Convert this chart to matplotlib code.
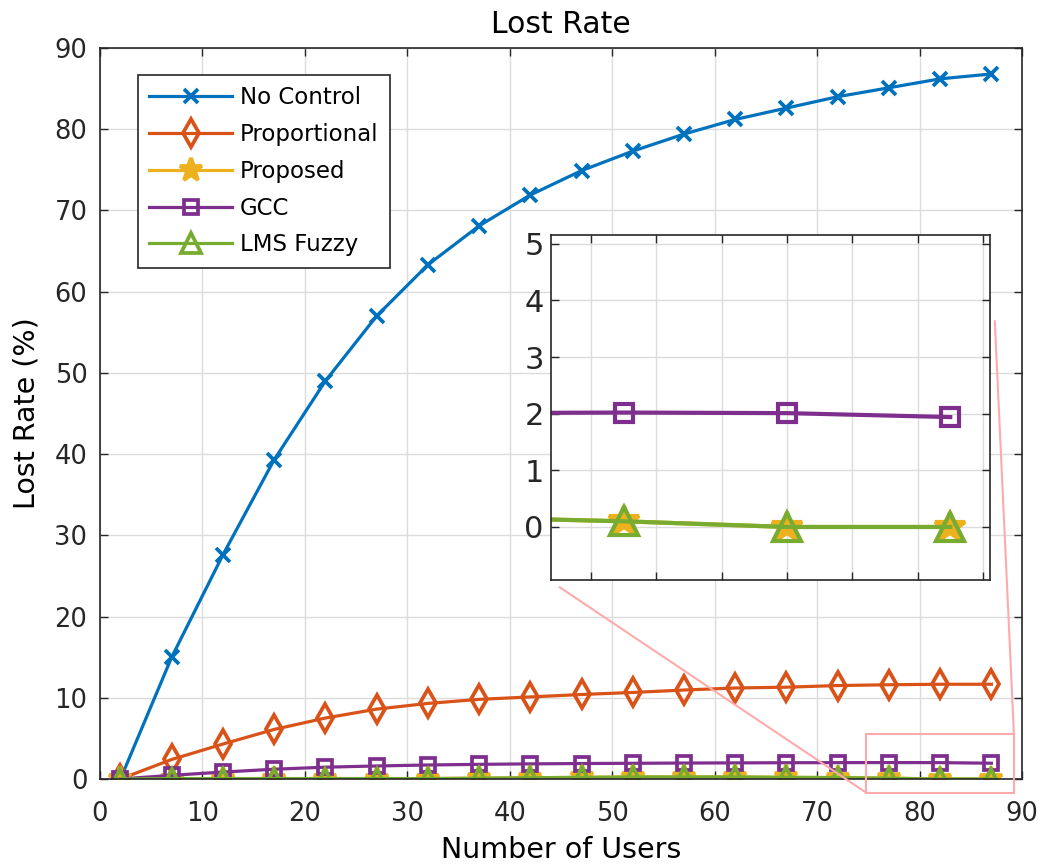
import matplotlib.pyplot as plt
from matplotlib.patches import Rectangle, ConnectionPatch

plt.rcParams['font.family'] = ['DejaVu Sans']

users = [2, 7, 12, 17, 22, 27, 32, 37, 42, 47, 52, 57, 62, 67, 72, 77, 82, 87]
no_control = [0, 15.0, 27.6, 39.3, 49.0, 57.0, 63.3, 68.1, 71.9, 74.9, 77.3, 79.4, 81.2, 82.6, 84.0, 85.1, 86.2, 86.8]
proportional = [0, 2.4, 4.3, 6.1, 7.5, 8.6, 9.3, 9.8, 10.1, 10.4, 10.65, 10.95, 11.2, 11.3, 11.5, 11.6, 11.66, 11.66]
proposed = [0, 0.05, 0.05, 0.05, 0.05, 0.05, 0.05, 0.1, 0.15, 0.2, 0.25, 0.25, 0.25, 0.2, 0.17, 0.1, 0.0, 0.0]
gcc = [0, 0.45, 0.85, 1.2, 1.45, 1.6, 1.72, 1.8, 1.86, 1.9, 1.93, 1.96, 1.98, 2.0, 2.01, 2.02, 2.01, 1.94]
lms_fuzzy = [0, 0.05, 0.05, 0.05, 0.05, 0.05, 0.05, 0.1, 0.15, 0.2, 0.25, 0.25, 0.25, 0.2, 0.17, 0.1, 0.0, 0.0]

# values, label, colour, marker, marker size
series = [
    (no_control, 'No Control', '#0072BD', 'x', 9.5),
    (proportional, 'Proportional', '#D95319', 'd', 14),
    (proposed, 'Proposed', '#EDB120', '*', 17),
    (gcc, 'GCC', '#7E2F8E', 's', 10),
    (lms_fuzzy, 'LMS Fuzzy', '#77AC30', '^', 15),
]


def draw(ax, lw, mew, scale):
    for vals, lab, col, mk, ms in series:
        filled = mk == '*'
        ax.plot(users, vals, color=col, lw=lw, marker=mk, ms=ms * scale, mew=mew,
                mfc=col if filled else 'none', mec=col, label=lab)


def style(ax):
    ax.grid(True, color='#dcdcdc', lw=1)
    ax.set_axisbelow(True)
    ax.tick_params(direction='in', top=True, right=True, length=6, width=1,
                   colors='#262626')
    for s in ax.spines.values():
        s.set_color('#262626')
        s.set_linewidth(1.2)


fig = plt.figure(figsize=(10.57, 8.66), dpi=100)
ax = fig.add_axes([0.0946, 0.1005, 0.8724, 0.8441])
draw(ax, 2.3, 2.7, 1.0)
style(ax)
ax.set_xlim(0, 90)
ax.set_ylim(0, 90)
ax.set_xticks(range(0, 91, 10))
ax.set_yticks(range(0, 91, 10))
ax.tick_params(labelsize=18.5)
ax.tick_params(axis='x', pad=16)
ax.tick_params(axis='y', pad=9)
ax.set_title('Lost Rate', fontsize=21.5, pad=11)
ax.set_xlabel('Number of Users', fontsize=20.5)
ax.set_ylabel('Lost Rate (%)', fontsize=20.5)
ax.xaxis.set_label_coords(0.5, -0.078)
ax.yaxis.set_label_coords(-0.064, 0.5)
leg = ax.legend(loc='upper left', bbox_to_anchor=(0.0412, 0.963), borderaxespad=0,
                fontsize=16.5, handlelength=3.6, handletextpad=0.35,
                fancybox=False, edgecolor='#262626', framealpha=1,
                borderpad=0.5, labelspacing=0.6)
leg.get_frame().set_linewidth(1.2)

# zoom box on the main axes
zx0, zx1, zy0, zy1 = 74.8, 89.2, -1.7, 5.5
rect = Rectangle((zx0, zy0), zx1 - zx0, zy1 - zy0, fill=False, ec='#ffaaaa',
                 lw=1.5, clip_on=False, zorder=5)
ax.add_patch(rect)

ins = fig.add_axes([0.521, 0.330, 0.416, 0.399])
draw(ins, 3.0, 3.0, 1.3)
style(ins)
ins.set_xlim(74.76, 88.23)
ins.set_ylim(-0.94, 5.16)
ins.set_xticks(range(76, 89, 2))
ins.set_xticklabels([])
ins.set_yticks(range(0, 6))
ins.tick_params(labelsize=22, pad=5)

con1 = ConnectionPatch(xyA=(zx0, zy0), coordsA=ax.transData,
                       xyB=(0.02, -0.02), coordsB=ins.transAxes,
                       color='#ffaaaa', lw=1.5)
con2 = ConnectionPatch(xyA=(zx1, zy1), coordsA=ax.transData,
                       xyB=(1.01, 0.75), coordsB=ins.transAxes,
                       color='#ffaaaa', lw=1.5)
fig.add_artist(con1)
fig.add_artist(con2)

fig.savefig('out.png', dpi=100)
